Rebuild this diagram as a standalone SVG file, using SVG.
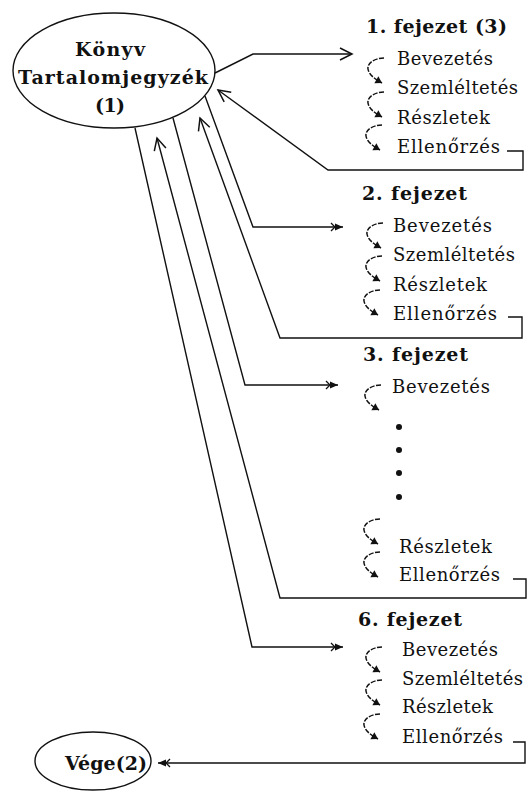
<svg xmlns="http://www.w3.org/2000/svg" width="529" height="792" viewBox="0 0 529 792">
<style>
  .bg{fill:#fff}
  .shape{fill:#fff;stroke:#111;stroke-width:1.4}
  .ln{fill:none;stroke:#111;stroke-width:1.4}
  .cv{fill:none;stroke:#111;stroke-width:1.5;stroke-dasharray:5 1.5}
  .t{font-family:"DejaVu Serif","Liberation Serif",serif;font-size:18px;fill:#111}
  .h{font-family:"DejaVu Serif","Liberation Serif",serif;font-size:19px;font-weight:bold;fill:#111}
  .dot{fill:#111}
</style>
<defs>
  <marker id="open" markerUnits="userSpaceOnUse" viewBox="-15 -9 17 18" refX="0" refY="0" markerWidth="17" markerHeight="18" orient="auto">
    <path d="M -12 -6 L 0 0 L -12 6" fill="none" stroke="#111" stroke-width="1.5"/>
  </marker>
  <marker id="fill" markerUnits="userSpaceOnUse" viewBox="-15 -8 17 16" refX="0" refY="0" markerWidth="17" markerHeight="16" orient="auto">
    <path d="M 0 0 L -8 -3.5 L -8 3.5 Z" fill="#111"/>
    <path d="M -12 -4 L -8 0 L -12 4" fill="none" stroke="#111" stroke-width="1.3"/>
  </marker>
  <marker id="tip" markerUnits="userSpaceOnUse" viewBox="-8 -5 10 10" refX="0" refY="0" markerWidth="10" markerHeight="10" orient="auto">
    <path d="M 0 0 L -6.5 -4 L -6.5 4 Z" fill="#111"/>
  </marker>
  <path id="cv" class="cv" d="M 2 0 C -7 0, -15 5, -14 11 C -13 17, -7 21, 0 25" marker-end="url(#tip)"/>
</defs>
<rect class="bg" x="0" y="0" width="529" height="792"/>

<g id="connectors">
  <path class="ln" d="M 215 73 L 253 54 L 352 54" marker-end="url(#open)"/>
  <path class="ln" d="M 507 151 L 523 151 L 523 170 L 328 170 L 218 90" marker-end="url(#open)"/>
  <path class="ln" d="M 205 96 L 253 227 L 343 227" marker-end="url(#fill)"/>
  <path class="ln" d="M 508 317 L 522 317 L 522 338 L 280 338 L 200 118" marker-end="url(#open)"/>
  <path class="ln" d="M 173 118 L 245 385 L 338 385" marker-end="url(#fill)"/>
  <path class="ln" d="M 513 579 L 526 579 L 526 598 L 280 598 L 157 138" marker-end="url(#open)"/>
  <path class="ln" d="M 135 128 L 252 647 L 343 647" marker-end="url(#fill)"/>
  <path class="ln" d="M 513 742 L 525 742 L 525 763 L 158 763" marker-end="url(#fill)"/>
</g>

<g id="konyv">
  <ellipse class="shape" cx="114" cy="70.5" rx="101" ry="57.5"/>
  <text class="h" x="110" y="56" text-anchor="middle" textLength="70">Könyv</text>
  <text class="h" x="113" y="84" text-anchor="middle" textLength="190">Tartalomjegyzék</text>
  <text class="h" x="110" y="112" text-anchor="middle" textLength="30">(1)</text>
</g>

<g id="fejezet1">
  <text class="h" x="366" y="33" textLength="141">1. fejezet (3)</text>
  <text class="t" x="397" y="65" textLength="96">Bevezetés</text>
  <text class="t" x="397" y="94" textLength="121">Szemléltetés</text>
  <text class="t" x="397" y="124" textLength="93">Részletek</text>
  <text class="t" x="397" y="153" textLength="103">Ellenőrzés</text>
  <use href="#cv" x="382" y="58"/>
  <use href="#cv" x="382" y="92"/>
  <use href="#cv" x="380" y="125"/>
</g>

<g id="fejezet2">
  <text class="h" x="362" y="200" textLength="105">2. fejezet</text>
  <text class="t" x="393" y="232" textLength="99">Bevezetés</text>
  <text class="t" x="393" y="261" textLength="122">Szemléltetés</text>
  <text class="t" x="393" y="291" textLength="94">Részletek</text>
  <text class="t" x="393" y="320" textLength="104">Ellenőrzés</text>
  <use href="#cv" x="381" y="223"/>
  <use href="#cv" x="380" y="256"/>
  <use href="#cv" x="378" y="290"/>
</g>

<g id="fejezet3">
  <text class="h" x="363" y="361" textLength="105">3. fejezet</text>
  <text class="t" x="392" y="393" textLength="98">Bevezetés</text>
  <circle class="dot" cx="399" cy="427" r="3"/>
  <circle class="dot" cx="399" cy="450" r="3"/>
  <circle class="dot" cx="399" cy="473" r="3"/>
  <circle class="dot" cx="399" cy="497" r="3"/>
  <text class="t" x="399" y="553" textLength="93">Részletek</text>
  <text class="t" x="399" y="581" textLength="101">Ellenőrzés</text>
  <use href="#cv" x="379" y="385"/>
  <use href="#cv" x="378" y="519"/>
  <use href="#cv" x="378" y="552"/>
</g>

<g id="fejezet6">
  <text class="h" x="358" y="626" textLength="104">6. fejezet</text>
  <text class="t" x="402" y="656" textLength="96">Bevezetés</text>
  <text class="t" x="402" y="685" textLength="121">Szemléltetés</text>
  <text class="t" x="402" y="713" textLength="91">Részletek</text>
  <text class="t" x="402" y="743" textLength="101">Ellenőrzés</text>
  <use href="#cv" x="380" y="647"/>
  <use href="#cv" x="380" y="680"/>
  <use href="#cv" x="378" y="714"/>
</g>

<g id="vege">
  <ellipse class="shape" cx="93" cy="761" rx="58" ry="29"/>
  <text class="h" x="106" y="770" text-anchor="middle" textLength="82">Vége(2)</text>
</g>
</svg>
